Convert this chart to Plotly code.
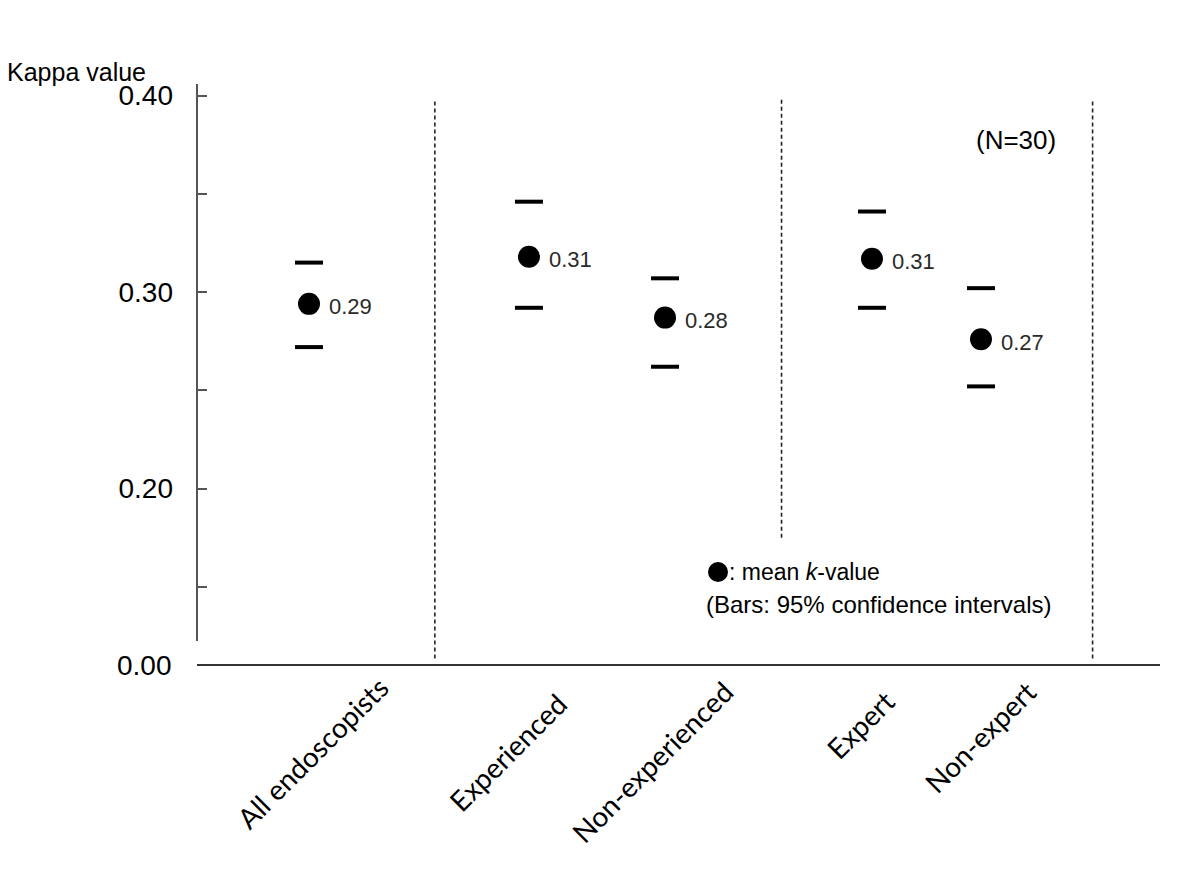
import plotly.graph_objects as go

# ---- data ----
groups = ["All endoscopists", "Experienced", "Non-experienced", "Expert", "Non-expert"]
mean_k = [0.294, 0.318, 0.287, 0.317, 0.276]
ci_upper = [0.315, 0.346, 0.307, 0.341, 0.302]
ci_lower = [0.272, 0.292, 0.262, 0.292, 0.252]
mean_labels = ["0.29", "0.31", "0.28", "0.31", "0.27"]
y_tickvals = [0.15, 0.20, 0.25, 0.30, 0.35, 0.40]
y_ticktext = ["", "0.20", "", "0.30", "", "0.40"]

# ---- layout helpers (positions on a 0..10 horizontal scale) ----
x_pos = [1.163, 3.447, 4.860, 7.009, 8.141]
separators = [2.47, 6.07, 9.30]
sep_bottom = [0.1135, 0.1750, 0.1135]
sep_top = 0.3985

OFF = 8  # page offset of the rendered figure
W, H = 1200, 870
L, T = 197 - OFF, 84 - OFF
R = W - (1160 - OFF)
B = H - (665 - OFF)
pw, ph = W - L - R, H - T - B


def px_x(px):
    return (px - OFF - L) / pw


def px_y(py):
    return (H - B - (py - OFF)) / ph


fig = go.Figure()

# CI caps
fig.add_trace(go.Scatter(
    x=x_pos + x_pos, y=ci_upper + ci_lower, mode="markers",
    marker=dict(symbol="line-ew", size=20, color="black",
                line=dict(width=4, color="black")),
    hoverinfo="skip", showlegend=False))

# means
fig.add_trace(go.Scatter(
    x=x_pos, y=mean_k, mode="markers",
    marker=dict(symbol="circle", size=22, color="black"),
    showlegend=False))

shapes = []
for xs, yb in zip(separators, sep_bottom):
    shapes.append(dict(type="line", xref="x", yref="y", x0=xs, x1=xs,
                       y0=yb, y1=sep_top,
                       line=dict(color="#222", width=1.6, dash="4px,3px")))
# y axis line (stops short of x axis)
shapes.append(dict(type="line", xref="paper", yref="paper", x0=0, x1=0,
                   y0=px_y(641), y1=1, line=dict(color="#555", width=2)))
# x axis line
shapes.append(dict(type="line", xref="paper", yref="paper", x0=0, x1=1,
                   y0=0, y1=0, line=dict(color="#333", width=2)))
# legend dot
shapes.append(dict(type="circle", xref="paper", yref="paper",
                   xsizemode="pixel", ysizemode="pixel",
                   xanchor=px_x(718), yanchor=px_y(572),
                   x0=-10, x1=10, y0=-10, y1=10,
                   fillcolor="black", line=dict(width=0)))

label_cx = [312, 508, 652, 860, 980]
label_cy = [753, 752, 762, 725, 737]

annotations = []
# mean value labels
for xv, yv, t in zip(x_pos, mean_k, mean_labels):
    annotations.append(dict(text=t, xref="x", yref="y", x=xv, y=yv,
                            xanchor="left", yanchor="middle", xshift=18,
                            yshift=-3, showarrow=False,
                            font=dict(family="Liberation Sans", size=22,
                                      color="#2a2a2a")))
for g, cx, cy in zip(groups, label_cx, label_cy):
    annotations.append(dict(text=g, xref="paper", yref="paper",
                            x=px_x(cx), y=px_y(cy), xanchor="center",
                            yanchor="middle", textangle=-45, showarrow=False,
                            font=dict(family="Lato", size=28, color="black")))

annotations += [
    dict(text="Kappa value", xref="paper", yref="paper", x=px_x(5), y=px_y(72),
         xanchor="left", yanchor="middle", showarrow=False,
         font=dict(family="Liberation Sans", size=25, color="black")),
    dict(text="0.00", xref="paper", yref="paper", x=0, y=0, xshift=-23,
         xanchor="right", yanchor="middle", showarrow=False,
         font=dict(family="Liberation Sans", size=28, color="black")),
    dict(text="(N=30)", xref="paper", yref="paper", x=px_x(1016), y=px_y(140),
         xanchor="center", yanchor="middle", showarrow=False,
         font=dict(family="Liberation Sans", size=26, color="black")),
    dict(text=": mean <i>k</i>-value", xref="paper", yref="paper",
         x=px_x(727), y=px_y(572), xanchor="left", yanchor="middle",
         showarrow=False,
         font=dict(family="Liberation Sans", size=23, color="black")),
    dict(text="(Bars: 95% confidence intervals)", xref="paper", yref="paper",
         x=px_x(704), y=px_y(604), xanchor="left", yanchor="middle",
         showarrow=False,
         font=dict(family="Liberation Sans", size=24, color="black")),
]

fig.update_layout(
    width=W, height=H,
    margin=dict(l=L, r=R, t=T, b=B, pad=0),
    paper_bgcolor="white", plot_bgcolor="white",
    xaxis=dict(range=[0, 10], showgrid=False, zeroline=False, showline=False,
               showticklabels=False, ticks=""),
    yaxis=dict(range=[0.1102, 0.4059], showgrid=False, zeroline=False,
               showline=False, tickvals=y_tickvals, ticktext=y_ticktext,
               ticks="inside", ticklen=10, tickwidth=1.5, tickcolor="#555",
               ticklabelstandoff=23,
               tickfont=dict(family="Liberation Sans", size=28, color="black")),
    shapes=shapes, annotations=annotations,
)

fig.write_html("out.html")
